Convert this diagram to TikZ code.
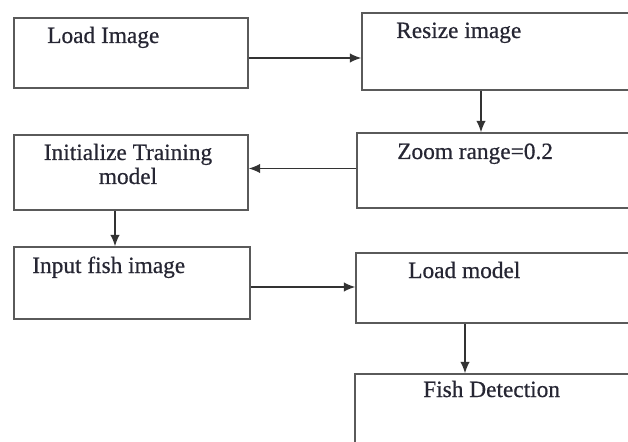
\documentclass[tikz,border=0pt]{standalone}
\usepackage{fontspec}
\setmainfont{Liberation Serif}[FakeBold=0.6]
\usetikzlibrary{arrows.meta,calc}
\definecolor{linegray}{HTML}{5A5A5A}
\definecolor{txtcol}{HTML}{262633}
\begin{document}
\begin{tikzpicture}[x=0.75pt,y=-0.75pt,
  box/.style 2 args={draw=linegray,line width=1.1pt,inner sep=0pt,minimum width=#1*0.75pt,minimum height=#2*0.75pt},
  txt/.style={text=txtcol,font=\fontsize{17.5}{18}\selectfont,inner sep=0pt},
  arr/.style={draw=black!80,line width=1pt,-{Latex[length=8.5pt,width=7pt]}}]
\useasboundingbox (0,0) rectangle (628,442);
\clip (0,0) rectangle (628,442);
% boxes
\node[box={234}{70}] (b1) at (131,53) {};
\node[box={278}{77}] (b2) at (501,51.5) {};
\node[box={234}{75}] (b3) at (131,172.5) {};
\node[box={283}{75}] (b4) at (498.5,170.5) {};
\node[box={236}{72}] (b5) at (132,283) {};
\node[box={284}{70}] (b6) at (498,288) {};
\node[box={285}{86}] (b7) at (497.5,417) {};
% texts
\node[txt,anchor=base west] (t1) at (47,43) {Load Image};
\node[txt,anchor=base west] (t2) at (396,38) {Resize image};
\node[txt,anchor=base] (t3a) at (128,160) {Initialize Training};
\node[txt,anchor=base] (t3b) at (128,184) {model};
\node[txt,anchor=base west] (t4) at (397,159) {Zoom range=0.2};
\node[txt,anchor=base west] (t5) at (32,273) {Input fish image};
\node[txt,anchor=base west] (t6) at (408,278) {Load model};
\node[txt,anchor=base west] (t7) at (423,397) {Fish Detection};
% connectors
\coordinate (p1) at ([yshift=-3.75pt]b1.east);
\draw[arr] (p1) -- (p1 -| b2.west);
\coordinate (p2) at ([xshift=-15pt]b2.south);
\draw[arr] (p2) -- (p2 |- b4.north);
\coordinate (p6) at ([yshift=1.5pt]b4.west);
\draw[arr] (p6) -- (p6 -| b3.east);
\coordinate (p3) at ([xshift=-12pt]b3.south);
\draw[arr] (p3) -- (p3 |- b5.north);
\coordinate (p4) at ([yshift=-3pt]b5.east);
\draw[arr] (p4) -- (p4 -| b6.west);
\coordinate (p5) at ([xshift=-24.75pt]b6.south);
\draw[arr] (p5) -- (p5 |- b7.north);
\end{tikzpicture}
\end{document}
